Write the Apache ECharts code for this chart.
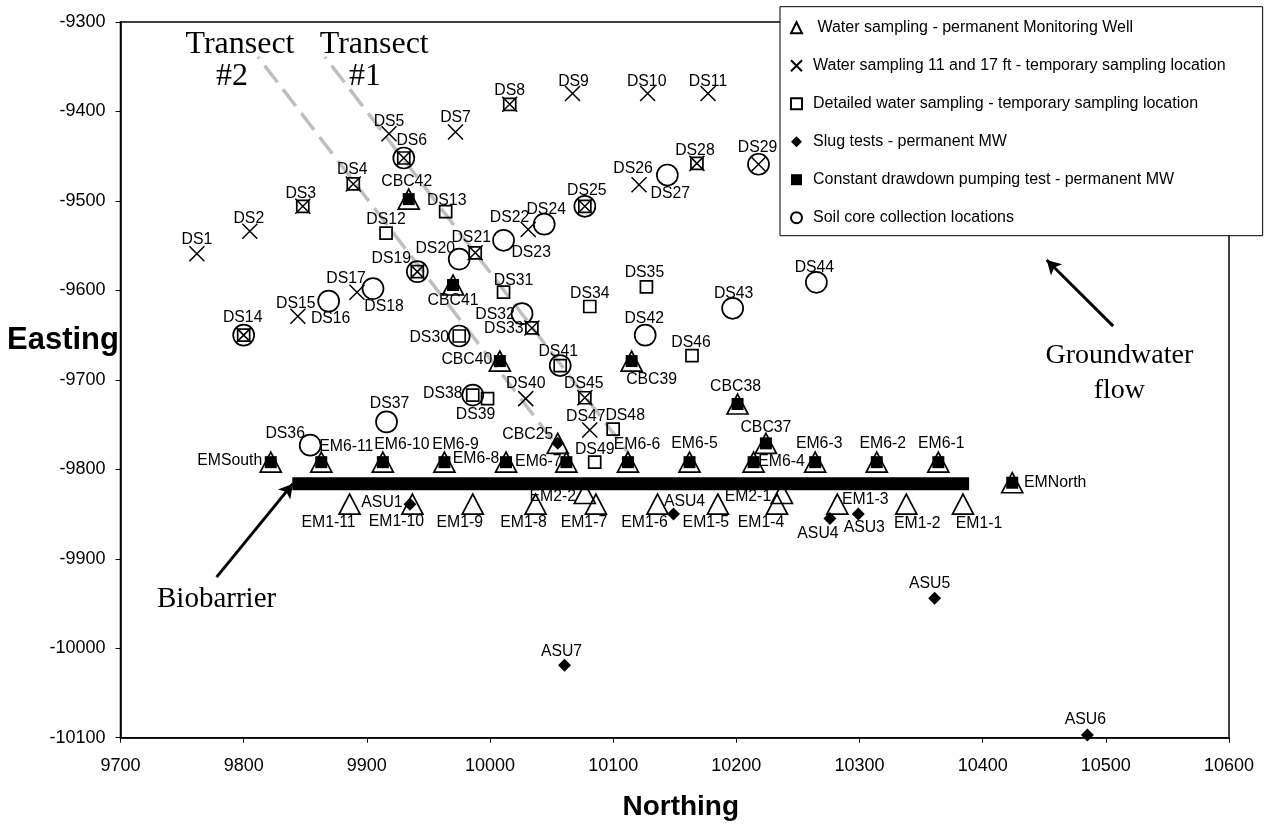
<!DOCTYPE html>
<html><head><meta charset="utf-8">
<style>html,body{margin:0;padding:0;background:#fff}#c{width:1265px;height:824px}</style>
<script src="https://cdn.jsdelivr.net/npm/echarts@6/dist/echarts.min.js"></script>
</head><body><div id="c"></div>
<script>
const dsSites = [
['DS1',9762,-9559],['DS2',9805,-9534],['DS3',9848,-9506],['DS4',9889,-9481],['DS5',9918,-9425],
['DS6',9930,-9452],['DS7',9972,-9423],['DS8',10016,-9392],['DS9',10067,-9380],['DS10',10128,-9380],
['DS11',10177,-9380],['DS12',9915.6,-9536],['DS13',9964,-9512],['DS14',9800,-9650],['DS15',9844,-9629],
['DS16',9869,-9612],['DS17',9892,-9602],['DS18',9905,-9598],['DS19',9941,-9579],['DS20',9975,-9565],
['DS21',9988,-9558],['DS22',10011,-9544],['DS23',10031,-9532],['DS24',10044,-9526],['DS25',10077,-9506],
['DS26',10121,-9482],['DS27',10144,-9471],['DS28',10168,-9458],['DS29',10218,-9459],['DS30',9975,-9651],
['DS31',10011,-9602],['DS32',10026,-9626],['DS33',10034,-9642],['DS34',10081,-9618],['DS35',10127,-9596],
['DS36',9854,-9773],['DS37',9916,-9747],['DS38',9986,-9717],['DS39',9998,-9721],['DS40',10029,-9721],
['DS41',10057,-9684],['DS42',10126,-9650],['DS43',10197,-9620],['DS44',10265,-9591],['DS45',10077,-9720],
['DS46',10164,-9673],['DS47',10081,-9756],['DS48',10100,-9755],['DS49',10085,-9792]];
const crossNames = ['DS1','DS2','DS3','DS4','DS5','DS6','DS7','DS8','DS9','DS10','DS11','DS14','DS15','DS17','DS19','DS21','DS23','DS25','DS26','DS28','DS29','DS33','DS40','DS45','DS47'];
const squareNames = ['DS3','DS4','DS6','DS8','DS12','DS13','DS14','DS19','DS21','DS25','DS28','DS30','DS31','DS33','DS34','DS35','DS38','DS39','DS41','DS45','DS46','DS48','DS49'];
const circleNames = ['DS6','DS14','DS16','DS18','DS19','DS20','DS22','DS24','DS25','DS27','DS29','DS30','DS32','DS36','DS37','DS38','DS41','DS42','DS43','DS44'];
const em6Sites = [
['EMSouth',9822,-9792],['EM6-11',9863,-9792],['EM6-10',9913,-9792],['EM6-9',9963,-9792],['EM6-8',10013,-9792],
['EM6-7',10062,-9792],['EM6-6',10112,-9792],['EM6-5',10162,-9792],['EM6-4',10214,-9792],['EM6-3',10264,-9792],
['EM6-2',10314,-9792],['EM6-1',10364,-9792],['EMNorth',10424,-9815]];
const cbcSites = [['CBC42',9934,-9498],['CBC41',9970,-9594],['CBC40',10008,-9679],['CBC39',10115,-9679],['CBC38',10201,-9727],['CBC37',10224,-9771]];
const cbcSlugSites = [['CBC25',10055,-9771]];
const em1Sites = [
['EM1-11',9886,-9839],['EM1-10',9937,-9839],['EM1-9',9986,-9839],['EM1-8',10037,-9839],['EM1-7',10086,-9839],
['EM1-6',10136,-9839],['EM1-5',10185,-9839],['EM1-4',10233,-9839],['EM1-3',10282,-9839],['EM1-2',10338,-9839],
['EM1-1',10384,-9839],['EM2-2',10077,-9827],['EM2-1',10237,-9827]];
const asuSites = [['ASU1',9935,-9839],['ASU4',10149,-9850],['ASU4',10276,-9855],['ASU3',10299,-9850],['ASU5',10361,-9944],['ASU6',10485,-10097],['ASU7',10060.5,-10019]];
const biobarrier = [[9839.5,-9816],[10389,-9816]];
const transect1 = [[9866,-9339],[10112,-9781]];
const transect2 = [[9811.6,-9339],[10054,-9773]];
const arrowBio = [[9778,-9920.5],[9840,-9816]];
const arrowFlow = [[10506,-9640],[10452,-9566]];
const notes = [['Transect',9797,-9325.5],['#2',9790.5,-9360.5],['Transect',9906,-9325.5],['#1',9898.5,-9360.5],['Biobarrier',9778,-9945.5],['Groundwater',10511,-9672.5],['flow',10511,-9712.5]];
const legendNames = [' Water sampling - permanent Monitoring Well','Water sampling 11 and 17 ft - temporary sampling location','Detailed water sampling - temporary sampling location','Slug tests - permanent MW','Constant drawdown pumping test - permanent MW','Soil core collection locations'];
const xTicks = {min:9700,max:10600,step:100};
const yTicks = {min:-10100,max:-9300,step:100};

// label placement in pixels relative to each marker (layout only)
const nudge = {DS1:[0,-14],DS2:[-1,-13],DS3:[-2,-13],DS4:[-1,-14],DS5:[0,-12],DS6:[8,-17],DS7:[0,-14],DS8:[0,-14],DS9:[1,-12],DS10:[-1,-12],DS11:[0,-12],DS12:[0,-13],DS13:[1,-11],DS14:[-1,-17],DS15:[-2,-13],DS16:[2,18],DS17:[-11,-14],DS18:[11,18],DS19:[-26,-13],DS20:[-24,-10],DS21:[-4,-15],DS22:[6,-23],DS23:[3,23],DS24:[2,-15],DS25:[2,-16],DS26:[-6,-16],DS27:[3,19],DS28:[-2,-13],DS29:[-1,-17],DS30:[-30,2],DS31:[10,-12],DS32:[-27,1],DS33:[-28,1],DS34:[0,-13],DS35:[-2,-14],DS36:[-25,-12],DS37:[3,-18],DS38:[-30,-1],DS39:[-12,16],DS40:[0,-15],DS41:[-2,-14],DS42:[-1,-16],DS43:[1,-15],DS44:[-2,-15],DS45:[-1,-14],DS46:[-1,-13],DS47:[-4,-13],DS48:[12,-13],DS49:[0,-13],
CBC42:[-2,-17],CBC41:[0,16],CBC40:[-33,-1],CBC39:[20,19],CBC38:[-2,-17],CBC37:[0,-16],CBC25:[-30,-9],
EMSouth:[-41,-2],'EM6-11':[25,-16],'EM6-10':[19,-18],'EM6-9':[11,-18],'EM6-8':[-30,-4],'EM6-7':[-28,-1],'EM6-6':[9,-18],'EM6-5':[5,-19],'EM6-4':[28,-1],'EM6-3':[4,-19],'EM6-2':[6,-19],'EM6-1':[3,-19],EMNorth:[43,0],
'EM1-11':[-21,18],'EM1-10':[-16,17],'EM1-9':[-13,18],'EM1-8':[-12,18],'EM1-7':[-12,18],'EM1-6':[-13,18],'EM1-5':[-12,18],'EM1-4':[-16,18],'EM1-3':[28,-5],'EM1-2':[11,19],'EM1-1':[16,19],'EM2-2':[-32,3],'EM2-1':[-34,3],
ASU1:[-28,-2],ASU3:[6,14],ASU5:[-5,-14],ASU6:[-2,-15],ASU7:[-3,-14]};
const asu4Nudge = [[11,-12],[-12,15]];
const noteFont = {Transect:32,'#1':32,'#2':32,Biobarrier:29,Groundwater:28,flow:28};

const pick = names => dsSites.filter(s => names.includes(s[0]));
const xy = list => list.map(s => ({name:s[0],value:[s[1],s[2]]}));
const FONT = '"Liberation Sans",Arial,sans-serif';
const open = {color:'transparent',borderColor:'#000',borderWidth:1.7,opacity:1};
const solid = {color:'#000',borderWidth:0,opacity:1};
const hidden = {color:'transparent',opacity:1};
const XPATH = 'path://M0 0L10 10M10 0L0 10';

let asu4Count = 0;
const allSites = [...dsSites,...em6Sites,...cbcSites,...cbcSlugSites,...em1Sites,...asuSites];
const labelOffsets = allSites.map(s => s[0]==='ASU4' ? asu4Nudge[asu4Count++] : nudge[s[0]]);

const chart = echarts.init(document.getElementById('c'),null,{renderer:'canvas'});
chart.setOption({
  animation:false,
  backgroundColor:'#fff',
  title:[{text:'Easting',left:2,top:320,textStyle:{fontFamily:FONT,fontSize:31,fontWeight:'bold',color:'#000'}}],
  grid:{left:120.5,top:22,width:1108.5,height:715.7,show:true,borderColor:'#000',borderWidth:1.5,backgroundColor:'transparent',outerBoundsMode:'none'},
  xAxis:{type:'value',min:xTicks.min,max:xTicks.max,interval:xTicks.step,position:'bottom',
    name:'Northing',nameLocation:'middle',nameGap:56,
    nameTextStyle:{fontFamily:FONT,fontSize:28,fontWeight:'bold',color:'#000',padding:[0,0,0,12]},
    splitLine:{show:false},
    axisLine:{onZero:false,lineStyle:{color:'#000',width:1.5}},
    axisTick:{length:5,lineStyle:{color:'#000',width:1}},
    axisLabel:{margin:19,fontFamily:FONT,fontSize:18,color:'#000',formatter:v=>String(v),showMinLabel:true,showMaxLabel:true}},
  yAxis:{type:'value',min:yTicks.min,max:yTicks.max,interval:yTicks.step,
    splitLine:{show:false},
    axisLine:{show:true,onZero:false,lineStyle:{color:'#000',width:1.5}},
    axisTick:{show:true,length:5,lineStyle:{color:'#000',width:1}},
    axisLabel:{margin:15,fontFamily:FONT,fontSize:18,color:'#000',formatter:v=>String(v),showMinLabel:true,showMaxLabel:true}},
  legend:{
    data:legendNames.map((n,i)=>({name:n,icon:[ 'triangle',XPATH,'rect','diamond','rect','circle'][i]})),
    orient:'vertical',left:780,top:6.7,align:'left',
    padding:[13,37,10,10],itemWidth:11,itemHeight:11,itemGap:22,
    selectedMode:false,backgroundColor:'#fff',borderColor:'#000',borderWidth:1,z:20,
    textStyle:{fontFamily:FONT,fontSize:16,color:'#000',padding:[0,0,0,6]}
  },
  series:[
    {type:'line',name:'transect1',data:transect1,symbol:'none',z:1,silent:true,lineStyle:{color:'#bfbfbf',width:3.5,type:[21,9],dashOffset:19}},
    {type:'line',name:'transect2',data:transect2,symbol:'none',z:1,silent:true,lineStyle:{color:'#bfbfbf',width:3.5,type:[21,9],dashOffset:19}},
    {type:'scatter',name:legendNames[0],symbol:'triangle',symbolSize:[21,20],z:3,silent:true,itemStyle:open,
      data:xy([...em6Sites,...cbcSites,...cbcSlugSites,...em1Sites])},
    {type:'scatter',name:legendNames[1],symbol:XPATH,symbolSize:15,z:4,silent:true,itemStyle:{...open,borderWidth:1.5},
      data:xy(pick(crossNames))},
    {type:'scatter',name:legendNames[2],symbol:'rect',symbolSize:12,z:4,silent:true,itemStyle:open,
      data:xy(pick(squareNames))},
    {type:'scatter',name:legendNames[3],symbol:'diamond',symbolSize:13,z:5,silent:true,itemStyle:solid,
      data:xy([...asuSites,...cbcSlugSites])},
    {type:'scatter',name:legendNames[4],symbol:'rect',symbolSize:12,z:5,silent:true,itemStyle:solid,
      data:xy([...em6Sites,...cbcSites])},
    {type:'scatter',name:legendNames[5],symbol:'circle',symbolSize:21,z:4,silent:true,itemStyle:open,
      data:xy(pick(circleNames))},
    {type:'line',name:'biobarrier',data:biobarrier,symbol:'none',z:6,silent:true,lineStyle:{color:'#000',width:13,cap:'butt'}},
    {type:'scatter',name:'arrows',data:[],z:7,silent:true,
      markLine:{silent:true,symbol:['none','arrow'],symbolSize:[12,14],animation:false,label:{show:false},
        lineStyle:{color:'#000',width:3,type:'solid',opacity:1},
        data:[[{coord:arrowBio[0]},{coord:arrowBio[1]}],[{coord:arrowFlow[0]},{coord:arrowFlow[1]}]]}},
    {type:'scatter',name:'labels',symbolSize:1,z:8,silent:true,itemStyle:hidden,
      label:{show:true,position:'inside',align:'center',verticalAlign:'middle',formatter:'{b}',fontFamily:FONT,fontSize:15.8,color:'#000',opacity:1},
      labelLayout:p=>({dx:labelOffsets[p.dataIndex][0],dy:labelOffsets[p.dataIndex][1],hideOverlap:false}),
      data:xy(allSites)},
    {type:'scatter',name:'notes',symbolSize:1,z:8,silent:true,itemStyle:hidden,
      label:{show:true,position:'inside',align:'center',verticalAlign:'middle',formatter:'{b}',fontFamily:'"Liberation Serif","Times New Roman",serif',color:'#000',opacity:1},
      data:notes.map(n=>({name:n[0],value:[n[1],n[2]],label:{fontSize:noteFont[n[0]],color:'#000'}}))}
  ]
});
</script></body></html>
